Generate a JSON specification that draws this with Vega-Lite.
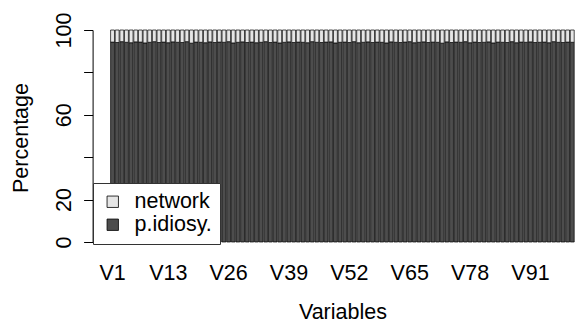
{
"$schema": "https://vega.github.io/schema/vega-lite/v6.json",
"autosize": {"type": "none"},
"padding": {"left": 110.6, "top": 30, "right": 0.8, "bottom": 80},
"width": 463.6,
"height": 212,
"background": "white",
"config": {"view": {"stroke": null}, "font": "Liberation Sans", "axis": {"grid": false}},
"data": {"values": [
{"v":"V1","comp":"p.idiosy.","pct":94.3},{"v":"V1","comp":"network","pct":5.7},
{"v":"V2","comp":"p.idiosy.","pct":94.1},{"v":"V2","comp":"network","pct":5.9},
{"v":"V3","comp":"p.idiosy.","pct":94.5},{"v":"V3","comp":"network","pct":5.5},
{"v":"V4","comp":"p.idiosy.","pct":94.2},{"v":"V4","comp":"network","pct":5.8},
{"v":"V5","comp":"p.idiosy.","pct":94.0},{"v":"V5","comp":"network","pct":6.0},
{"v":"V6","comp":"p.idiosy.","pct":94.4},{"v":"V6","comp":"network","pct":5.6},
{"v":"V7","comp":"p.idiosy.","pct":94.3},{"v":"V7","comp":"network","pct":5.7},
{"v":"V8","comp":"p.idiosy.","pct":93.9},{"v":"V8","comp":"network","pct":6.1},
{"v":"V9","comp":"p.idiosy.","pct":94.2},{"v":"V9","comp":"network","pct":5.8},
{"v":"V10","comp":"p.idiosy.","pct":94.5},{"v":"V10","comp":"network","pct":5.5},
{"v":"V11","comp":"p.idiosy.","pct":94.1},{"v":"V11","comp":"network","pct":5.9},
{"v":"V12","comp":"p.idiosy.","pct":94.3},{"v":"V12","comp":"network","pct":5.7},
{"v":"V13","comp":"p.idiosy.","pct":94.0},{"v":"V13","comp":"network","pct":6.0},
{"v":"V14","comp":"p.idiosy.","pct":94.4},{"v":"V14","comp":"network","pct":5.6},
{"v":"V15","comp":"p.idiosy.","pct":94.2},{"v":"V15","comp":"network","pct":5.8},
{"v":"V16","comp":"p.idiosy.","pct":94.1},{"v":"V16","comp":"network","pct":5.9},
{"v":"V17","comp":"p.idiosy.","pct":94.5},{"v":"V17","comp":"network","pct":5.5},
{"v":"V18","comp":"p.idiosy.","pct":93.8},{"v":"V18","comp":"network","pct":6.2},
{"v":"V19","comp":"p.idiosy.","pct":94.3},{"v":"V19","comp":"network","pct":5.7},
{"v":"V20","comp":"p.idiosy.","pct":94.2},{"v":"V20","comp":"network","pct":5.8},
{"v":"V21","comp":"p.idiosy.","pct":94.0},{"v":"V21","comp":"network","pct":6.0},
{"v":"V22","comp":"p.idiosy.","pct":94.4},{"v":"V22","comp":"network","pct":5.6},
{"v":"V23","comp":"p.idiosy.","pct":94.1},{"v":"V23","comp":"network","pct":5.9},
{"v":"V24","comp":"p.idiosy.","pct":94.3},{"v":"V24","comp":"network","pct":5.7},
{"v":"V25","comp":"p.idiosy.","pct":94.2},{"v":"V25","comp":"network","pct":5.8},
{"v":"V26","comp":"p.idiosy.","pct":94.5},{"v":"V26","comp":"network","pct":5.5},
{"v":"V27","comp":"p.idiosy.","pct":93.9},{"v":"V27","comp":"network","pct":6.1},
{"v":"V28","comp":"p.idiosy.","pct":94.2},{"v":"V28","comp":"network","pct":5.8},
{"v":"V29","comp":"p.idiosy.","pct":94.4},{"v":"V29","comp":"network","pct":5.6},
{"v":"V30","comp":"p.idiosy.","pct":94.1},{"v":"V30","comp":"network","pct":5.9},
{"v":"V31","comp":"p.idiosy.","pct":94.3},{"v":"V31","comp":"network","pct":5.7},
{"v":"V32","comp":"p.idiosy.","pct":94.0},{"v":"V32","comp":"network","pct":6.0},
{"v":"V33","comp":"p.idiosy.","pct":94.2},{"v":"V33","comp":"network","pct":5.8},
{"v":"V34","comp":"p.idiosy.","pct":94.5},{"v":"V34","comp":"network","pct":5.5},
{"v":"V35","comp":"p.idiosy.","pct":94.1},{"v":"V35","comp":"network","pct":5.9},
{"v":"V36","comp":"p.idiosy.","pct":94.3},{"v":"V36","comp":"network","pct":5.7},
{"v":"V37","comp":"p.idiosy.","pct":93.9},{"v":"V37","comp":"network","pct":6.1},
{"v":"V38","comp":"p.idiosy.","pct":94.2},{"v":"V38","comp":"network","pct":5.8},
{"v":"V39","comp":"p.idiosy.","pct":94.4},{"v":"V39","comp":"network","pct":5.6},
{"v":"V40","comp":"p.idiosy.","pct":94.1},{"v":"V40","comp":"network","pct":5.9},
{"v":"V41","comp":"p.idiosy.","pct":94.3},{"v":"V41","comp":"network","pct":5.7},
{"v":"V42","comp":"p.idiosy.","pct":94.2},{"v":"V42","comp":"network","pct":5.8},
{"v":"V43","comp":"p.idiosy.","pct":94.0},{"v":"V43","comp":"network","pct":6.0},
{"v":"V44","comp":"p.idiosy.","pct":94.5},{"v":"V44","comp":"network","pct":5.5},
{"v":"V45","comp":"p.idiosy.","pct":94.2},{"v":"V45","comp":"network","pct":5.8},
{"v":"V46","comp":"p.idiosy.","pct":94.1},{"v":"V46","comp":"network","pct":5.9},
{"v":"V47","comp":"p.idiosy.","pct":94.3},{"v":"V47","comp":"network","pct":5.7},
{"v":"V48","comp":"p.idiosy.","pct":94.4},{"v":"V48","comp":"network","pct":5.6},
{"v":"V49","comp":"p.idiosy.","pct":93.9},{"v":"V49","comp":"network","pct":6.1},
{"v":"V50","comp":"p.idiosy.","pct":94.2},{"v":"V50","comp":"network","pct":5.8},
{"v":"V51","comp":"p.idiosy.","pct":94.3},{"v":"V51","comp":"network","pct":5.7},
{"v":"V52","comp":"p.idiosy.","pct":94.1},{"v":"V52","comp":"network","pct":5.9},
{"v":"V53","comp":"p.idiosy.","pct":94.5},{"v":"V53","comp":"network","pct":5.5},
{"v":"V54","comp":"p.idiosy.","pct":94.0},{"v":"V54","comp":"network","pct":6.0},
{"v":"V55","comp":"p.idiosy.","pct":94.2},{"v":"V55","comp":"network","pct":5.8},
{"v":"V56","comp":"p.idiosy.","pct":94.4},{"v":"V56","comp":"network","pct":5.6},
{"v":"V57","comp":"p.idiosy.","pct":94.1},{"v":"V57","comp":"network","pct":5.9},
{"v":"V58","comp":"p.idiosy.","pct":94.3},{"v":"V58","comp":"network","pct":5.7},
{"v":"V59","comp":"p.idiosy.","pct":94.2},{"v":"V59","comp":"network","pct":5.8},
{"v":"V60","comp":"p.idiosy.","pct":93.9},{"v":"V60","comp":"network","pct":6.1},
{"v":"V61","comp":"p.idiosy.","pct":94.4},{"v":"V61","comp":"network","pct":5.6},
{"v":"V62","comp":"p.idiosy.","pct":94.2},{"v":"V62","comp":"network","pct":5.8},
{"v":"V63","comp":"p.idiosy.","pct":94.1},{"v":"V63","comp":"network","pct":5.9},
{"v":"V64","comp":"p.idiosy.","pct":94.3},{"v":"V64","comp":"network","pct":5.7},
{"v":"V65","comp":"p.idiosy.","pct":94.5},{"v":"V65","comp":"network","pct":5.5},
{"v":"V66","comp":"p.idiosy.","pct":94.0},{"v":"V66","comp":"network","pct":6.0},
{"v":"V67","comp":"p.idiosy.","pct":94.2},{"v":"V67","comp":"network","pct":5.8},
{"v":"V68","comp":"p.idiosy.","pct":94.4},{"v":"V68","comp":"network","pct":5.6},
{"v":"V69","comp":"p.idiosy.","pct":94.1},{"v":"V69","comp":"network","pct":5.9},
{"v":"V70","comp":"p.idiosy.","pct":94.3},{"v":"V70","comp":"network","pct":5.7},
{"v":"V71","comp":"p.idiosy.","pct":94.2},{"v":"V71","comp":"network","pct":5.8},
{"v":"V72","comp":"p.idiosy.","pct":93.8},{"v":"V72","comp":"network","pct":6.2},
{"v":"V73","comp":"p.idiosy.","pct":94.4},{"v":"V73","comp":"network","pct":5.6},
{"v":"V74","comp":"p.idiosy.","pct":94.1},{"v":"V74","comp":"network","pct":5.9},
{"v":"V75","comp":"p.idiosy.","pct":94.3},{"v":"V75","comp":"network","pct":5.7},
{"v":"V76","comp":"p.idiosy.","pct":94.2},{"v":"V76","comp":"network","pct":5.8},
{"v":"V77","comp":"p.idiosy.","pct":94.5},{"v":"V77","comp":"network","pct":5.5},
{"v":"V78","comp":"p.idiosy.","pct":94.0},{"v":"V78","comp":"network","pct":6.0},
{"v":"V79","comp":"p.idiosy.","pct":94.3},{"v":"V79","comp":"network","pct":5.7},
{"v":"V80","comp":"p.idiosy.","pct":94.1},{"v":"V80","comp":"network","pct":5.9},
{"v":"V81","comp":"p.idiosy.","pct":94.2},{"v":"V81","comp":"network","pct":5.8},
{"v":"V82","comp":"p.idiosy.","pct":94.4},{"v":"V82","comp":"network","pct":5.6},
{"v":"V83","comp":"p.idiosy.","pct":93.9},{"v":"V83","comp":"network","pct":6.1},
{"v":"V84","comp":"p.idiosy.","pct":94.3},{"v":"V84","comp":"network","pct":5.7},
{"v":"V85","comp":"p.idiosy.","pct":94.2},{"v":"V85","comp":"network","pct":5.8},
{"v":"V86","comp":"p.idiosy.","pct":94.1},{"v":"V86","comp":"network","pct":5.9},
{"v":"V87","comp":"p.idiosy.","pct":94.5},{"v":"V87","comp":"network","pct":5.5},
{"v":"V88","comp":"p.idiosy.","pct":94.0},{"v":"V88","comp":"network","pct":6.0},
{"v":"V89","comp":"p.idiosy.","pct":94.3},{"v":"V89","comp":"network","pct":5.7},
{"v":"V90","comp":"p.idiosy.","pct":94.2},{"v":"V90","comp":"network","pct":5.8},
{"v":"V91","comp":"p.idiosy.","pct":94.4},{"v":"V91","comp":"network","pct":5.6},
{"v":"V92","comp":"p.idiosy.","pct":94.1},{"v":"V92","comp":"network","pct":5.9},
{"v":"V93","comp":"p.idiosy.","pct":94.2},{"v":"V93","comp":"network","pct":5.8},
{"v":"V94","comp":"p.idiosy.","pct":94.3},{"v":"V94","comp":"network","pct":5.7},
{"v":"V95","comp":"p.idiosy.","pct":94.0},{"v":"V95","comp":"network","pct":6.0},
{"v":"V96","comp":"p.idiosy.","pct":94.5},{"v":"V96","comp":"network","pct":5.5},
{"v":"V97","comp":"p.idiosy.","pct":94.2},{"v":"V97","comp":"network","pct":5.8},
{"v":"V98","comp":"p.idiosy.","pct":94.1},{"v":"V98","comp":"network","pct":5.9},
{"v":"V99","comp":"p.idiosy.","pct":94.3},{"v":"V99","comp":"network","pct":5.7},
{"v":"V100","comp":"p.idiosy.","pct":94.2},{"v":"V100","comp":"network","pct":5.8}
]},
"mark": {"type": "bar", "stroke": "black", "strokeWidth": 0.7},
"encoding": {
  "x": {"field": "v", "type": "nominal", "sort": null,
    "scale": {"paddingInner": 0.1667, "paddingOuter": 0},
    "axis": {"values": ["V1","V13","V26","V39","V52","V65","V78","V91"], "labelAngle": 0, "ticks": false, "tickSize": 0, "domain": false,
      "labelFont": "Liberation Sans", "labelFontSize": 21.5, "labelColor": "black", "labelBaseline": "alphabetic", "labelPadding": 37,
      "title": "Variables", "titleFont": "Liberation Sans", "titleFontSize": 21.5, "titleFontWeight": "normal", "titleColor": "black",
      "titleBaseline": "alphabetic", "titleAlign": "center", "titleX": 231.8, "titleY": 76}},
  "y": {"field": "pct", "type": "quantitative", "stack": "zero",
    "scale": {"domain": [0, 100], "nice": false},
    "axis": {"values": [0, 20, 40, 60, 80, 100], "labelExpr": "datum.value == 40 || datum.value == 80 ? '' : datum.label",
      "offset": 18, "tickSize": 9, "tickColor": "black", "domainColor": "black", "tickWidth": 1, "domainWidth": 1,
      "labelAngle": -90, "labelAlign": "center", "labelBaseline": "alphabetic", "labelPadding": 13,
      "labelFont": "Liberation Sans", "labelFontSize": 21.5, "labelColor": "black",
      "title": "Percentage", "titleFont": "Liberation Sans", "titleFontSize": 21.5, "titleFontWeight": "normal", "titleColor": "black",
      "titleAngle": -90, "titleBaseline": "alphabetic", "titleAlign": "center", "titleX": -64.7, "titleY": 107.5}},
  "color": {"field": "comp", "type": "nominal",
    "scale": {"domain": ["network", "p.idiosy."], "range": ["#E6E6E6", "#4D4D4D"]},
    "legend": {"orient": "none", "legendX": -17.6, "legendY": 153, "title": null, "fillColor": "white", "strokeColor": "#333333",
      "padding": 8, "symbolType": "square", "symbolSize": 130, "symbolStrokeColor": "black", "symbolStrokeWidth": 0.8, "symbolOpacity": 1,
      "symbolOffset": 1, "labelFont": "Liberation Sans", "labelFontSize": 21.5, "labelColor": "black", "labelOffset": 11, "rowPadding": 0}},
  "order": {"field": "comp", "sort": "descending"}
}
}
